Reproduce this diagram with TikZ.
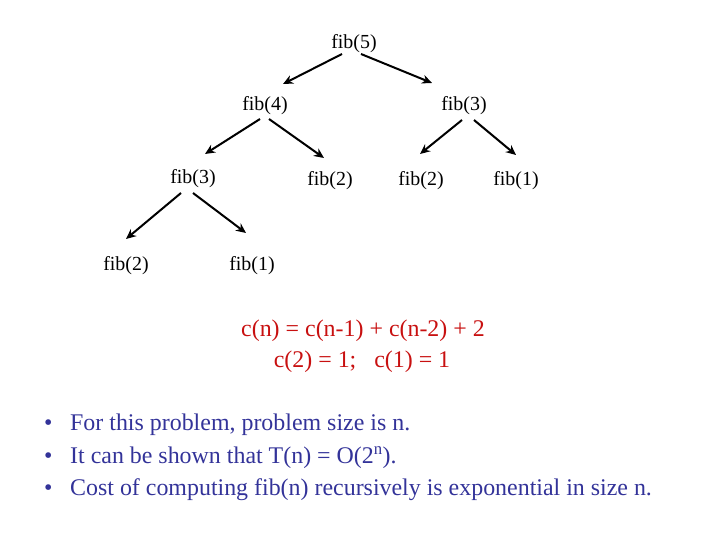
\documentclass[tikz,border=0pt]{standalone}
\usepackage{fontspec}
\setmainfont{Liberation Serif}
\usepackage{xcolor}
\usetikzlibrary{arrows.meta, calc}
\definecolor{rougeFormule}{RGB}{200, 16, 16}
\definecolor{bleuTexte}{RGB}{51, 51, 153}
\newcommand{\petitepuce}{\makebox[26bp][l]{\textbullet}}

\begin{document}
\begin{tikzpicture}[x=1bp, y=-1bp,
  appel/.style={inner sep=0pt, font=\fontsize{20}{24}\selectfont},
  arr/.style={-{Stealth[length=10bp, width=9bp]}, line width=2bp},
  formule/.style={inner sep=0pt, text=rougeFormule,
    font=\fontsize{24}{28}\selectfont},
  puce/.style={inner sep=0pt, anchor=west, text=bleuTexte,
    font=\fontsize{24}{28}\selectfont},
]
\useasboundingbox (0,0) rectangle (720,540);
% arbre des appels
\node[appel] (f5)  at (354, 44)  {fib(5)};
\node[appel] (f4)  at (265, 106) {fib(4)};
\node[appel] (f3r) at (464, 106) {fib(3)};
\node[appel] (f3l) at (193, 179) {fib(3)};
\node[appel] (f2a) at (330, 181) {fib(2)};
\node[appel] (f2b) at (421, 181) {fib(2)};
\node[appel] (f1a) at (516, 181) {fib(1)};
\node[appel] (f2c) at (126, 266) {fib(2)};
\node[appel] (f1b) at (252, 266) {fib(1)};
\draw[arr] ($(f5)+(-12,10)$)  -- ($(f4)+(18,-22)$);
\draw[arr] ($(f5)+(7,10)$)    -- ($(f3r)+(-32,-23)$);
\draw[arr] ($(f4)+(-5,13)$)   -- ($(f3l)+(12,-25)$);
\draw[arr] ($(f4)+(4,13)$)    -- ($(f2a)+(-6,-23)$);
\draw[arr] ($(f3r)+(-2,14)$)  -- ($(f2b)+(-1,-27)$);
\draw[arr] ($(f3r)+(10,14)$)  -- ($(f1a)+(0,-26)$);
\draw[arr] ($(f3l)+(-12,14)$) -- ($(f2c)+(0,-27)$);
\draw[arr] ($(f3l)+(0,14)$)   -- ($(f1b)+(-6,-33)$);
% recurrence
\node[formule] (rec)  at (363, 331) {c(n) = c(n-1) + c(n-2) + 2};
\node[formule] (init) at (362, 362) {c(2) = 1;\ \ \ c(1) = 1};
% remarques
\node[puce] (p1) at (44, 425)
  {\petitepuce For this problem, problem size is n.};
\node[puce] (p2) at (44, 458)
  {\petitepuce It can be shown that T(n) = O(2\textsuperscript{n}).};
\node[puce] (p3) at (44, 490)
  {\petitepuce Cost of computing fib(n) recursively is exponential in size n.};
\end{tikzpicture}
\end{document}
